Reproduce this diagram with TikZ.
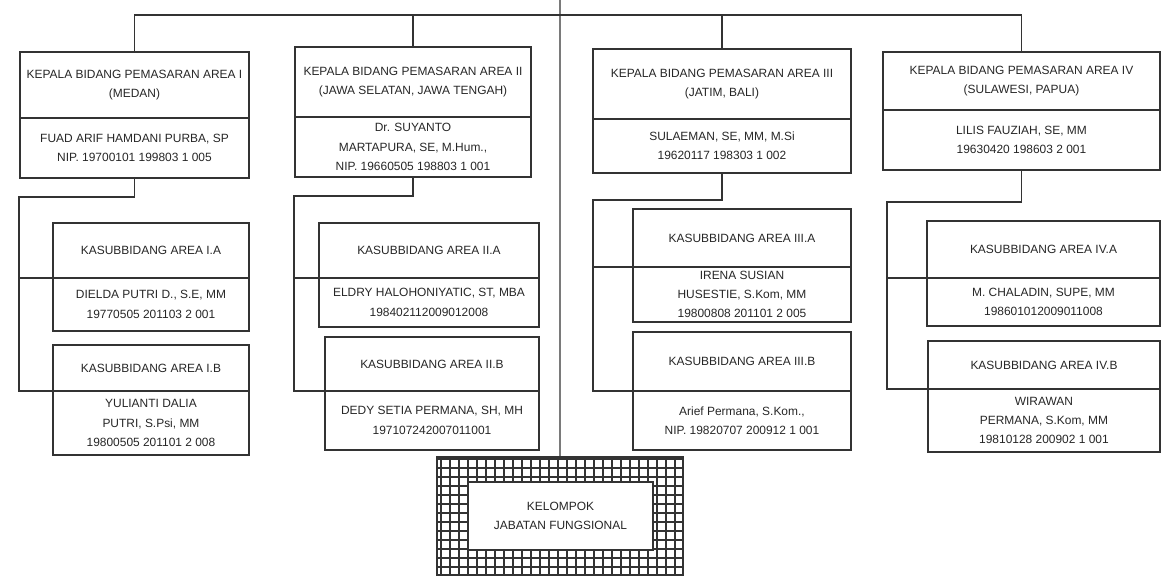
\documentclass[tikz,border=0pt]{standalone}
\usepackage{fontspec}
\setmainfont{Liberation Sans}
\usetikzlibrary{positioning,calc}
\definecolor{lineGray}{HTML}{333333}

\begin{document}
\begin{tikzpicture}[x=0.02cm, y=-0.02cm,
    every node/.style={font=\fontsize{6.8}{11}\selectfont, text=black!85},
    part/.style={draw=lineGray, line width=0.9pt, anchor=north west,
                 inner sep=0pt, outer sep=0pt, align=center},
    link/.style={draw=lineGray, line width=0.8pt},
  ]
  \useasboundingbox (0,0) rectangle (1163,576);

  % Area I
  \node[part, minimum width=4.58cm, minimum height=1.32cm] (k1t) at (20,52)
    {KEPALA BIDANG PEMASARAN AREA I\\(MEDAN)};
  \node[part, minimum width=4.58cm, minimum height=1.2cm, below=0pt of k1t] (k1n)
    {FUAD ARIF HAMDANI PURBA, SP\\NIP. 19700101 199803 1 005};
  \node[part, minimum width=3.92cm, minimum height=1.1cm] (ka1t) at (53,223)
    {KASUBBIDANG AREA I.A};
  \node[part, minimum width=3.92cm, minimum height=1.06cm, below=0pt of ka1t] (ka1n)
    {DIELDA PUTRI D., S.E, MM\\19770505 201103 2 001};
  \node[part, minimum width=3.92cm, minimum height=0.92cm] (kb1t) at (53,345)
    {KASUBBIDANG AREA I.B};
  \node[part, minimum width=3.92cm, minimum height=1.28cm, below=0pt of kb1t] (kb1n)
    {YULIANTI DALIA\\PUTRI, S.Psi, MM\\19800505 201101 2 008};

  % Area II
  \node[part, minimum width=4.72cm, minimum height=1.4cm] (k2t) at (295,47)
    {KEPALA BIDANG PEMASARAN AREA II\\(JAWA SELATAN, JAWA TENGAH)};
  \node[part, minimum width=4.72cm, minimum height=1.2cm, below=0pt of k2t] (k2n)
    {Dr. SUYANTO\\MARTAPURA, SE, M.Hum.,\\NIP. 19660505 198803 1 001};
  \node[part, minimum width=4.4cm, minimum height=1.1cm] (ka2t) at (319,223)
    {KASUBBIDANG AREA II.A};
  \node[part, minimum width=4.4cm, minimum height=0.98cm, below=0pt of ka2t] (ka2n)
    {ELDRY HALOHONIYATIC, ST, MBA\\198402112009012008};
  \node[part, minimum width=4.28cm, minimum height=1.08cm] (kb2t) at (325,337)
    {KASUBBIDANG AREA II.B};
  \node[part, minimum width=4.28cm, minimum height=1.18cm, below=0pt of kb2t] (kb2n)
    {DEDY SETIA PERMANA, SH, MH\\197107242007011001};

  % Area III
  \node[part, minimum width=5.16cm, minimum height=1.4cm] (k3t) at (593,49)
    {KEPALA BIDANG PEMASARAN AREA III\\(JATIM, BALI)};
  \node[part, minimum width=5.16cm, minimum height=1.08cm, below=0pt of k3t] (k3n)
    {SULAEMAN, SE, MM, M.Si\\19620117 198303 1 002};
  \node[part, minimum width=4.36cm, minimum height=1.16cm] (ka3t) at (633,209)
    {KASUBBIDANG AREA III.A};
  \node[part, minimum width=4.36cm, minimum height=1.1cm, below=0pt of ka3t] (ka3n)
    {IRENA SUSIAN\\HUSESTIE, S.Kom, MM\\19800808 201101 2 005};
  \node[part, minimum width=4.36cm, minimum height=1.18cm] (kb3t) at (633,332)
    {KASUBBIDANG AREA III.B};
  \node[part, minimum width=4.36cm, minimum height=1.18cm, below=0pt of kb3t] (kb3n)
    {Arief Permana, S.Kom.,\\NIP. 19820707 200912 1 001};

  % Area IV
  \node[part, minimum width=5.54cm, minimum height=1.16cm] (k4t) at (883,52)
    {KEPALA BIDANG PEMASARAN AREA IV\\(SULAWESI, PAPUA)};
  \node[part, minimum width=5.54cm, minimum height=1.2cm, below=0pt of k4t] (k4n)
    {LILIS FAUZIAH, SE, MM\\19630420 198603 2 001};
  \node[part, minimum width=4.66cm, minimum height=1.14cm] (ka4t) at (927,221)
    {KASUBBIDANG AREA IV.A};
  \node[part, minimum width=4.66cm, minimum height=0.96cm, below=0pt of ka4t] (ka4n)
    {M. CHALADIN, SUPE, MM\\198601012009011008};
  \node[part, minimum width=4.64cm, minimum height=0.96cm] (kb4t) at (928,341)
    {KASUBBIDANG AREA IV.B};
  \node[part, minimum width=4.64cm, minimum height=1.26cm, below=0pt of kb4t] (kb4n)
    {WIRAWAN\\PERMANA, S.Kom, MM\\19810128 200902 1 001};

  % Functional group (hatched frame)
  \node[part, minimum width=4.92cm, minimum height=2.36cm] (fung) at (437,457) {};
  \begin{scope}
    \clip (fung.north west) rectangle (fung.south east);
    \draw[lineGray, line width=0.9pt, step=0.18cm] (fung.north west) grid (fung.south east);
  \end{scope}
  \node[part, fill=white, minimum width=3.7cm, minimum height=1.36cm] (fungin) at (468,482)
    {KELOMPOK\\JABATAN FUNGSIONAL};

  % Top bus and main line
  \coordinate (top) at (560,0);
  \coordinate (bus) at (0,15);
  \draw[link] (top) -- (fung.north);
  \draw[link] (k1t.north) |- (k4t.north |- bus) -- (k4t.north);
  \draw[link] (k2t.north) -- (k2t.north |- bus);
  \draw[link] (k3t.north) -- (k3t.north |- bus);

  % Rails down to the sub-fields
  \coordinate (r1) at (19,197);
  \coordinate (r2) at (294,196);
  \coordinate (r3) at (593,200);
  \coordinate (r4) at (887,202);
  \draw[link] (k1n.south) |- (r1) |- (kb1t.south west);
  \draw[link] (r1 |- ka1t.south west) -- (ka1t.south west);
  \draw[link] (k2n.south) |- (r2) |- (kb2t.south west);
  \draw[link] (r2 |- ka2t.south west) -- (ka2t.south west);
  \draw[link] (k3n.south) |- (r3) |- (kb3t.south west);
  \draw[link] (r3 |- ka3t.south west) -- (ka3t.south west);
  \draw[link] (k4n.south) |- (r4) |- (kb4t.south west);
  \draw[link] (r4 |- ka4t.south west) -- (ka4t.south west);
\end{tikzpicture}
\end{document}
